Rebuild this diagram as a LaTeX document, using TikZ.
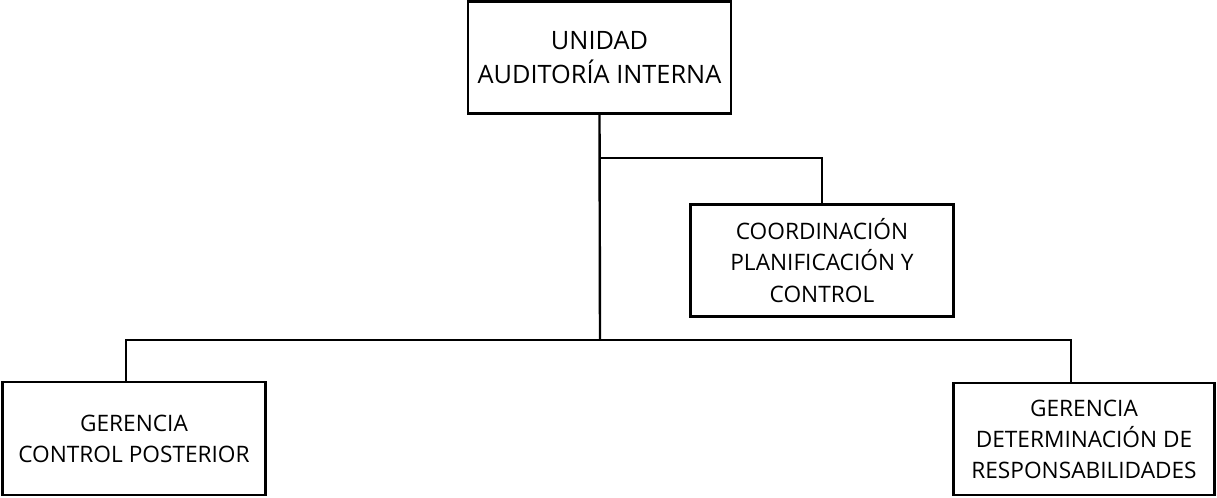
\documentclass[tikz,border=0pt]{standalone}
\usepackage{fontspec}
\setmainfont{Open Sans}
\usetikzlibrary{positioning}
\tikzset{caja/.style={draw,line width=1.8pt,align=center,minimum width=197pt,minimum height=84pt,inner sep=0pt,font=\fontsize{17}{23.3}\selectfont},
linea/.style={line width=1.8pt}}
\begin{document}
\begin{tikzpicture}[x=0.75pt,y=-0.75pt]
\useasboundingbox (0,0) rectangle (1217,497);
\node[caja,font=\fontsize{19}{26}\selectfont] (unidad) at (599.5,57.5){UNIDAD\\AUDITORÍA INTERNA};
\node[caja] (coord) at (822,260.5){COORDINACIÓN\\PLANIFICACIÓN Y\\CONTROL};
\node[caja,minimum height=85pt] (gcp) at (134,438.5){GERENCIA\\CONTROL POSTERIOR};
\node[caja,minimum width=196pt] (gdr) at (1084,439){GERENCIA\\DETERMINACIÓN DE\\RESPONSABILIDADES};
\coordinate (j1) at (600,158);\coordinate (j2) at (600,340);
\draw[linea] (unidad.south)--(j2);
\draw[linea] (j1)-|(coord.north);
\draw[linea] (j2)-|([xshift=-6pt]gcp.north);
\draw[linea] (j2)-|([xshift=-9.75pt]gdr.north);
\end{tikzpicture}
\end{document}
